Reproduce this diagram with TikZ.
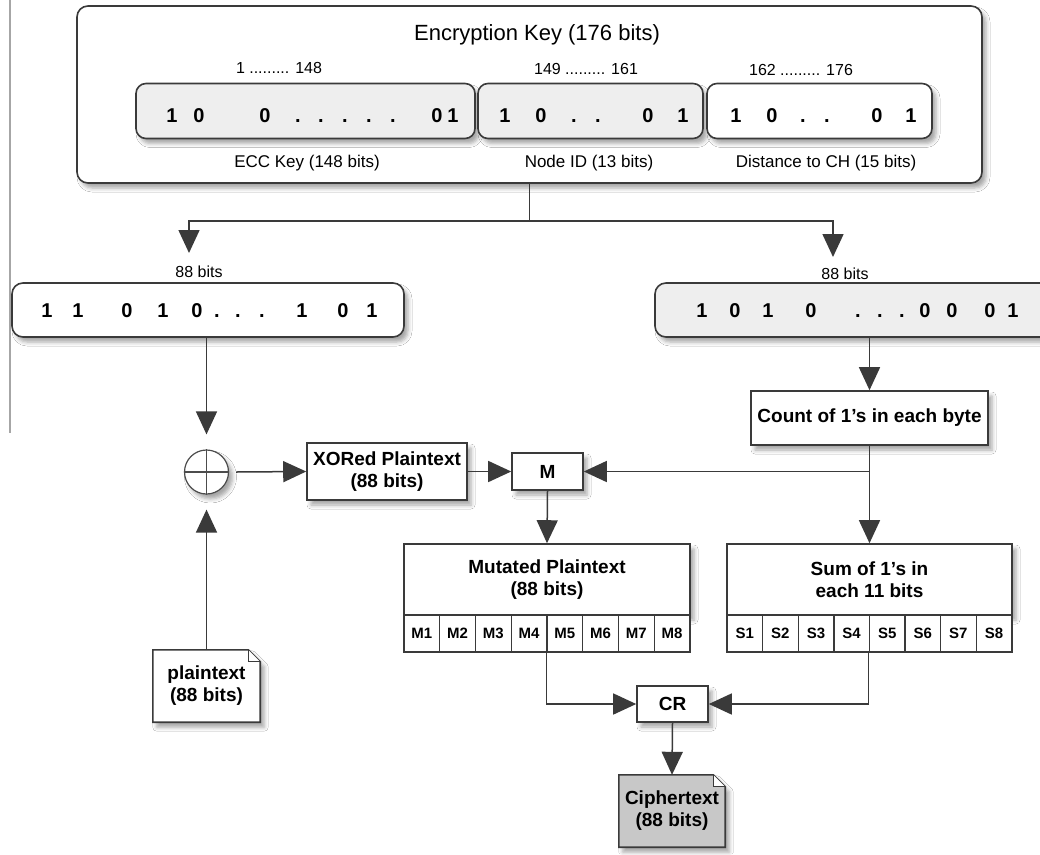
\documentclass[tikz,border=0pt]{standalone}
\usepackage{fontspec}
\setmainfont{Liberation Sans}
\usetikzlibrary{arrows.meta,shadows.blur,calc}
\definecolor{edge}{HTML}{3A3A3A}
\definecolor{lgray}{HTML}{EEEEEE}
\definecolor{cgray}{HTML}{C8C8C8}
\newcommand\mydoc[2]{%
  \draw[docline,fill=#2,sh] (#1.north west) -- ([xshift=-12pt]#1.north east) -- ([yshift=-12pt]#1.north east) -- (#1.south east) -- (#1.south west) -- cycle;
  \draw[docline,line width=1pt,fill=white] ([xshift=-12pt]#1.north east) -- ([xshift=-12pt,yshift=-12pt]#1.north east) -- ([yshift=-12pt]#1.north east);}
\begin{document}
\begin{tikzpicture}[x=1pt,y=-1pt,
  sh/.style={blur shadow={shadow xshift=4pt,shadow yshift=-5pt,shadow blur radius=4pt,shadow opacity=35}},
  rbox/.style={draw=edge,line width=1.6pt,rounded corners=11pt,inner sep=0pt,sh},
  sbox/.style={draw=edge,line width=1.6pt,inner sep=0pt,fill=white,sh,align=center,font=\bfseries\fontsize{19}{22}\selectfont},
  cell/.style={draw=edge,line width=1.4pt,inner sep=0pt,fill=white,minimum height=37pt,font=\bfseries\fontsize{15}{16}\selectfont},
  docarea/.style={inner sep=0pt,draw=none},
  doctext/.style={inner sep=0pt,align=center,font=\bfseries\fontsize{19}{22}\selectfont},
  docline/.style={draw=edge,line width=1.6pt},
  bit/.style={anchor=base,inner sep=0pt,font=\bfseries\fontsize{20}{22}\selectfont},
  lbl/.style={inner sep=0pt,font=\fontsize{16}{18}\selectfont},
  sublbl/.style={inner sep=0pt,font=\fontsize{17}{19}\selectfont},
  conn/.style={draw=edge,line width=1.5pt},
  arr/.style={conn,-{Triangle[length=23pt,width=21pt]}},
]
\useasboundingbox (0,0) rectangle (1040,854);
\clip (0,0) rectangle (1040,854);
\fill[white] (0,0) rectangle (1040,854);

% stray left rule
\draw[gray!70,line width=2pt] (10,0) -- (10,433);

% encryption key
\node[rbox,fill=white,minimum width=905pt,minimum height=177pt] (key) at (529.5,94.5) {};
\node[inner sep=0pt,font=\fontsize{22}{24}\selectfont] (title) at (537,35) {Encryption Key (176 bits)};
\node[rbox,rounded corners=10pt,fill=lgray,minimum width=339pt,minimum height=55pt] (ecc) at (305.5,111) {};
\node[rbox,rounded corners=10pt,fill=lgray,minimum width=225pt,minimum height=55pt] (nid) at (590.5,111) {};
\node[rbox,rounded corners=10pt,fill=white,minimum width=225pt,minimum height=55pt] (dist) at (819.5,111) {};
\node[lbl] (rng1) at (279,68) {1 ......... 148};
\node[lbl] (rng2) at (586,69) {149 ......... 161};
\node[lbl] (rng3) at (801,70) {162 ......... 176};
\node[sublbl] (ecclbl) at (307,163) {ECC Key (148 bits)};
\node[sublbl] (nidlbl) at (589,163) {Node ID (13 bits)};
\node[sublbl] (distlbl) at (826,163) {Distance to CH (15 bits)};
\foreach \x/\ch [count=\i] in {172/1,199/0,265/0,298/.,321/.,345/.,369/.,393/.,437/0,453/1}
  \node[bit] (eb\i) at (\x,122) {\ch};
\foreach \x/\ch [count=\i] in {505/1,541/0,574/.,598/.,648/0,683/1}
  \node[bit] (nb\i) at (\x,122) {\ch};
\foreach \x/\ch [count=\i] in {736/1,772/0,803/.,827/.,877/0,911/1}
  \node[bit] (db\i) at (\x,122) {\ch};

% 88-bit halves
\node[rbox,fill=white,minimum width=392pt,minimum height=54pt] (l88) at (208,310) {};
\node[rbox,fill=lgray,minimum width=420pt,minimum height=54pt] (r88) at (865,310) {};
\node[lbl] (l88lbl) at (199,272) {88 bits};
\node[lbl] (r88lbl) at (845,274) {88 bits};
\foreach \x/\ch [count=\i] in {47/1,78/1,127/0,163/1,197/0,217/.,238/.,262/.,302/1,343/0,372/1}
  \node[bit] (lb\i) at (\x,317) {\ch};
\foreach \x/\ch [count=\i] in {702/1,735/0,768/1,811/0,858/.,880/.,902/.,925/0,952/0,990/0,1013/1}
  \node[bit] (rb\i) at (\x,317) {\ch};

% processing blocks
\node[sbox,minimum width=237pt,minimum height=54pt] (cnt) at (869.5,418) {Count of 1's in each byte};
\node[circle,draw=gray!60!black,line width=1.2pt,minimum size=44pt,inner sep=0pt,fill=white,sh] (xor) at (206.5,472) {};
\draw[gray!60!black,line width=1.2pt] (xor.west) -- (xor.east) (xor.north) -- (xor.south);
\node[sbox,minimum width=160pt,minimum height=57pt] (xo) at (387,471.5) {XORed Plaintext\\(88 bits)};
\node[sbox,minimum width=71pt,minimum height=37pt] (m) at (547.5,471.5) {M};
\node[sbox,minimum width=286pt,minimum height=71pt] (mut) at (547,579.5) {Mutated Plaintext\\(88 bits)};
\node[sbox,minimum width=285pt,minimum height=71pt] (sum) at (869.5,579.5) {Sum of 1's in\\each 11 bits};
\foreach \i in {1,...,8}
  \node[cell,minimum width=35.75pt] (mc\i) at ({404+35.75*(\i-0.5)},633.5) {M\i};
\foreach \i in {1,...,8}
  \node[cell,minimum width=35.6pt] (sc\i) at ({727+35.6*(\i-0.5)},633.5) {S\i};
\node[sbox,minimum width=71pt,minimum height=36pt] (cr) at (672.5,704) {CR};

% documents
\node[docarea,minimum width=107pt,minimum height=72pt] (pt) at (206.5,686) {};
\mydoc{pt}{white}
\node[doctext] (ptt) at (pt.center) {plaintext\\(88 bits)};
\node[docarea,minimum width=106pt,minimum height=72pt] (ct) at (672,811) {};
\mydoc{ct}{cgray}
\node[doctext] (ctt) at (ct.center) {Ciphertext\\(88 bits)};

% connectors
\coordinate (jn) at (529.5,221);
\coordinate (tl) at (189,253);
\coordinate (tr) at (833,257);
\draw[conn] (key.south) -- (jn);
\draw[arr] (jn) -| (tl);
\draw[arr] (jn) -| (tr);
\draw[arr] (l88.south -| xor.north) -- ([yshift=15pt]xor.north);
\draw[arr] (pt.north) -- ([yshift=-15pt]xor.south);
\draw[arr] ([xshift=7pt]xor.east) -- (xo.west);
\draw[arr] (xo.east) -- (m.west);
\draw[arr] (cnt.north |- r88.south) -- (cnt.north);
\draw[arr] (cnt.south) -- (sum.north);
\draw[arr] (cnt.south) |- (m.east);
\draw[arr] (m.south) -- (mut.north);
\draw[arr] (mc5.south west) |- (cr.west);
\draw[arr] (sc5.south west) |- (cr.east);
\draw[arr] (cr.south) -- (ct.north);
\end{tikzpicture}
\end{document}
